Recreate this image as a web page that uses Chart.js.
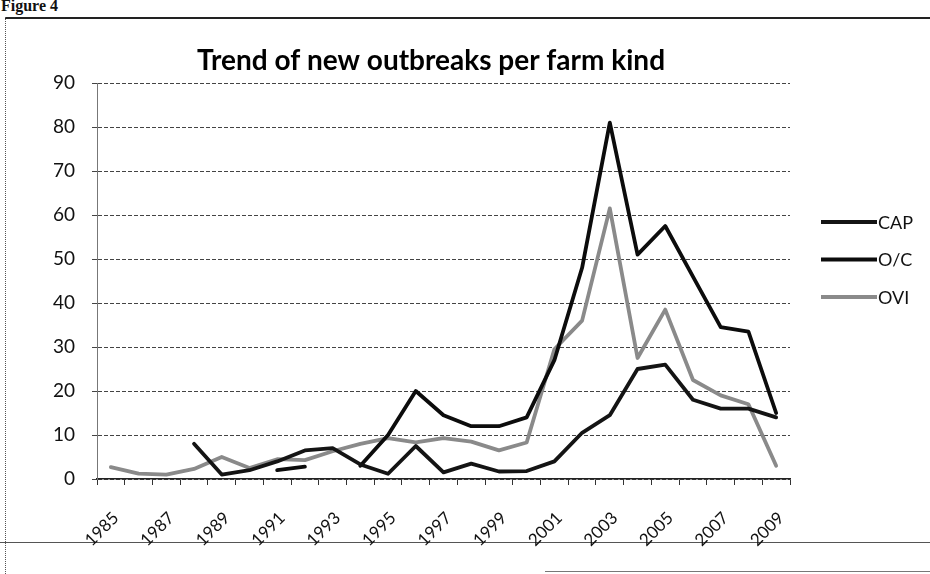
<!DOCTYPE html>
<html>
<head>
<meta charset="utf-8">
<script src="https://cdn.jsdelivr.net/npm/chart.js@4.4.1/dist/chart.umd.min.js"></script>
<style>
  html, body { margin: 0; padding: 0; background: #fff; }
  #page { position: relative; width: 930px; height: 574px; overflow: hidden; background: #fff; }
  #figLabel { position: absolute; left: 1px; top: -3px; font: bold 16px "Liberation Serif", "DejaVu Serif", serif; color: #111; }
  .rule { position: absolute; }
  #topRule { left: 5px; top: 17px; width: 925px; border-top: 2px solid #222; }
  #leftRule { left: 5px; top: 17px; height: 557px; border-left: 1px dotted #555; }
  #bottomRule { left: 0; top: 542px; width: 930px; border-top: 1px solid #555; }
  #cornerRule { left: 545px; top: 571px; width: 385px; border-top: 1px solid #777; }
  canvas { position: absolute; left: 0; top: 0; }
</style>
</head>
<body>
<div id="page">
  <div id="figLabel">Figure 4</div>
  <div class="rule" id="topRule"></div>
  <div class="rule" id="leftRule"></div>
  <div class="rule" id="bottomRule"></div>
  <div class="rule" id="cornerRule"></div>
  <canvas id="chart" width="930" height="574"></canvas>
</div>
<script>
// Years on the category axis
const years = ['1985','1986','1987','1988','1989','1990','1991','1992','1993','1994','1995','1996','1997',
               '1998','1999','2000','2001','2002','2003','2004','2005','2006','2007','2008','2009'];
// Years that carry a visible label
const labelledYears = ['1985','1987','1989','1991','1993','1995','1997','1999','2001','2003','2005','2007','2009'];
// Y axis tick values
const yTicks = [0, 10, 20, 30, 40, 50, 60, 70, 80, 90];

// New outbreaks per year (null = no data)
const capValues = [null, null, null, 8, 1, 2, 4, 6.5, 7, 3.3, 1.2, 7.5, 1.5, 3.5, 1.7, 1.8, 4, 10.5, 14.5, 25, 26, 18, 16, 16, 14];
const ocValues  = [null, null, null, null, null, null, 2, 2.8, null, 3, 10, 20, 14.5, 12, 12, 14, 27, 48, 81, 51, 57.5, 46, 34.5, 33.5, 15];
const oviValues = [2.7, 1.2, 1, 2.3, 5, 2.5, 4.5, 4.3, 6.3, 8, 9.3, 8.3, 9.3, 8.5, 6.5, 8.3, 29.5, 36, 61.5, 27.5, 38.5, 22.5, 19, 17, 3];

const seriesNames = ['CAP', 'O/C', 'OVI'];
const chartTitle = 'Trend of new outbreaks per farm kind';

const FONT = 'Lato, "Open Sans", "Liberation Sans", sans-serif';

// Title centred over the plot, slightly left of the plot centre
const titleText = {
  id: 'titleText',
  afterDraw(chart) {
    const ctx = chart.ctx;
    ctx.save();
    ctx.fillStyle = '#000';
    ctx.font = 'bold 28px ' + FONT;
    ctx.textAlign = 'center';
    ctx.textBaseline = 'middle';
    ctx.fillText(chartTitle, chart.chartArea.left + 334, 61);
    ctx.restore();
  }
};

// Legend drawn as a column to the right of the plot
const sideLegend = {
  id: 'sideLegend',
  afterDraw(chart) {
    const ctx = chart.ctx;
    const x0 = chart.chartArea.right + 31;
    chart.data.datasets.forEach((ds, i) => {
      const y = 222 + i * 37.5;
      ctx.save();
      ctx.strokeStyle = ds.borderColor;
      ctx.lineWidth = ds.borderWidth;
      ctx.lineCap = 'butt';
      ctx.beginPath();
      ctx.moveTo(x0, y);
      ctx.lineTo(x0 + 56, y);
      ctx.stroke();
      ctx.fillStyle = '#111';
      ctx.font = '18px ' + FONT;
      ctx.textBaseline = 'middle';
      ctx.fillText(ds.label, x0 + 57, y + 1);
      ctx.restore();
    });
  }
};

const lineStyle = (color) => ({
  borderColor: color,
  borderWidth: 3.8,
  pointRadius: 0,
  pointHoverRadius: 0,
  tension: 0,
  spanGaps: false,
  borderJoinStyle: 'round',
  borderCapStyle: 'round',
  fill: false
});

new Chart(document.getElementById('chart'), {
  type: 'line',
  data: {
    labels: years,
    datasets: [
      Object.assign({ label: seriesNames[0], data: capValues }, lineStyle('#141414')),
      Object.assign({ label: seriesNames[1], data: ocValues }, lineStyle('#0c0c0c')),
      Object.assign({ label: seriesNames[2], data: oviValues }, lineStyle('#8a8a8a'))
    ]
  },
  options: {
    responsive: false,
    animation: false,
    devicePixelRatio: 1,
    layout: { padding: { left: 36, right: 140, top: 83, bottom: 0 } },
    plugins: {
      legend: { display: false },
      tooltip: { enabled: false },
      title: { display: false }
    },
    scales: {
      x: {
        type: 'category',
        offset: true,
        afterFit(scale) { scale.height = 95; },
        grid: {
          offset: true,
          drawOnChartArea: false,
          drawTicks: true,
          tickLength: 6,
          tickColor: '#333',
          tickWidth: 1
        },
        border: { display: true, color: '#222', width: 1.5 },
        ticks: {
          autoSkip: false,
          minRotation: 45,
          maxRotation: 45,
          padding: 23,
          labelOffset: 5,
          color: '#111',
          font: { family: FONT, size: 17 },
          callback(value) {
            const y = this.getLabelForValue(value);
            return labelledYears.includes(y) ? y : '';
          }
        }
      },
      y: {
        min: yTicks[0],
        max: yTicks[yTicks.length - 1],
        afterFit(scale) { scale.width = 61; },
        afterBuildTicks(scale) { scale.ticks = yTicks.map(v => ({ value: v })); },
        grid: {
          color: '#444',
          lineWidth: 1,
          drawTicks: true,
          tickLength: 5,
          tickColor: '#444'
        },
        border: { display: true, color: '#777', width: 1, dash: [4, 2] },
        ticks: {
          padding: 17,
          color: '#111',
          font: { family: FONT, size: 19 }
        }
      }
    }
  },
  plugins: [titleText, sideLegend]
});
</script>
</body>
</html>
